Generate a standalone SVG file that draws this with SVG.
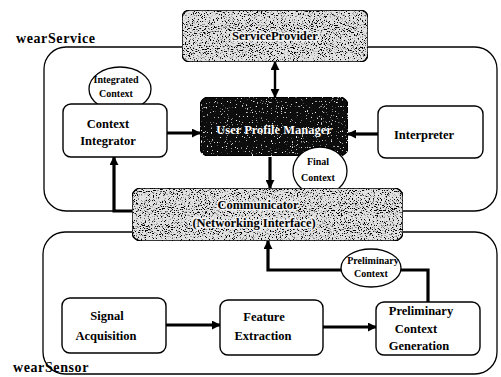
<svg xmlns="http://www.w3.org/2000/svg" width="501" height="377" viewBox="0 0 501 377">
<style>
  .cont { fill: none; stroke: #000; stroke-width: 1.3; }
  .box { fill: #fff; stroke: #000; stroke-width: 1.4; }
  .tex { fill: #e2e2e2; stroke: #000; stroke-width: 1.4; }
  .dark { fill: #0c0c0c; stroke: #000; stroke-width: 1.4; }
  .bub { fill: #fff; stroke: #000; stroke-width: 1.3; }
  .t { font-family: "Liberation Serif", "Times New Roman", serif; font-weight: bold; font-size: 12.5px; fill: #000; text-anchor: middle; }
  .tw { fill: #fff; }
  .th { stroke: #f2f2f2; stroke-width: 3; paint-order: stroke; stroke-linejoin: round; }
  .ts { font-size: 10px; }
  .lbl { font-family: "Liberation Serif", "Times New Roman", serif; font-weight: bold; font-size: 14px; letter-spacing: 0.6px; fill: #000; }
  .con { fill: none; stroke: #000; stroke-width: 3.2; }
  .con2 { fill: none; stroke: #000; stroke-width: 2.4; }
</style>
<defs>
  <marker id="ah" viewBox="0 0 10 10" refX="9" refY="5" markerWidth="9" markerHeight="9" markerUnits="userSpaceOnUse" orient="auto-start-reverse">
    <path d="M0,0 L10,5 L0,10 z" fill="#000"/>
  </marker>
  <filter id="grain" x="0" y="0" width="1" height="1">
    <feTurbulence type="fractalNoise" baseFrequency="0.75 0.95" numOctaves="2" seed="7" result="t"/>
    <feColorMatrix in="t" type="matrix" values="0 0 0 0 0  0 0 0 0 0  0 0 0 0 0  -8 0 0 0 3.75" result="d"/>
    <feComposite in="d" in2="SourceAlpha" operator="in" result="dm"/>
    <feMerge><feMergeNode in="SourceGraphic"/><feMergeNode in="dm"/></feMerge>
  </filter>
  <filter id="grainW" x="0" y="0" width="1" height="1">
    <feTurbulence type="fractalNoise" baseFrequency="0.8" numOctaves="1" seed="3" result="t"/>
    <feColorMatrix in="t" type="matrix" values="0 0 0 0 1  0 0 0 0 1  0 0 0 0 1  10 0 0 0 -6.6" result="d"/>
    <feComposite in="d" in2="SourceAlpha" operator="in" result="dm"/>
    <feMerge><feMergeNode in="SourceGraphic"/><feMergeNode in="dm"/></feMerge>
  </filter>
</defs>

<g id="wearService">
  <rect class="cont" x="44" y="47" width="453" height="164" rx="22"/>
  <text class="lbl" x="16" y="43">wearService</text>
</g>
<g id="wearSensor">
  <rect class="cont" x="43" y="232" width="454" height="142" rx="22"/>
  <text class="lbl" x="13" y="372">wearSensor</text>
</g>

<g id="connectors">
  <line class="con2" x1="275" y1="62" x2="275" y2="97" marker-start="url(#ah)" marker-end="url(#ah)"/>
  <line class="con" x1="167" y1="133" x2="200" y2="133" marker-end="url(#ah)"/>
  <line class="con" x1="378" y1="134" x2="348" y2="134" marker-end="url(#ah)"/>
  <line class="con" x1="270" y1="157" x2="270" y2="188" marker-end="url(#ah)"/>
  <path class="con" d="M132,211 H114 V157" marker-end="url(#ah)"/>
  <path class="con" d="M428,302 V270 H268 V241" marker-end="url(#ah)"/>
  <line class="con" x1="166" y1="325" x2="220" y2="325" marker-end="url(#ah)"/>
  <line class="con" x1="323" y1="327" x2="376" y2="327" marker-end="url(#ah)"/>
</g>

<g id="ServiceProvider">
  <rect class="tex" x="182" y="10" width="186" height="52" rx="8" filter="url(#grain)"/>
  <text class="t th" x="275" y="40">ServiceProvider</text>
</g>

<g id="UserProfileManager">
  <rect class="dark" x="200" y="97" width="148" height="59" rx="9" filter="url(#grainW)"/>
  <text class="t tw" x="274" y="134">User Profile Manager</text>
</g>

<g id="FinalContext">
  <ellipse class="bub" cx="320" cy="171" rx="27" ry="24"/>
  <text class="t ts" x="318" y="165">Final</text>
  <text class="t ts" x="318" y="181">Context</text>
</g>

<g id="Communicator">
  <rect class="tex" x="132" y="188" width="271" height="53" rx="9" filter="url(#grain)"/>
  <text class="t th" x="258" y="209">Communicator</text>
  <text class="t th" x="254" y="227">(Networking Interface)</text>
</g>

<g id="IntegratedContext">
  <ellipse class="bub" cx="120" cy="89" rx="31" ry="22"/>
  <text class="t ts" x="116" y="83">Integrated</text>
  <text class="t ts" x="116" y="97">Context</text>
</g>

<g id="ContextIntegrator">
  <rect class="box" x="63" y="104" width="104" height="53" rx="8"/>
  <text class="t" x="108" y="128">Context</text>
  <text class="t" x="108" y="145">Integrator</text>
</g>

<g id="Interpreter">
  <rect class="box" x="378" y="106" width="105" height="52" rx="8"/>
  <text class="t" x="424" y="139">Interpreter</text>
</g>

<g id="SignalAcquisition">
  <rect class="box" x="62" y="298" width="104" height="55" rx="8"/>
  <text class="t" x="107" y="320">Signal</text>
  <text class="t" x="106" y="340">Acquisition</text>
</g>

<g id="FeatureExtraction">
  <rect class="box" x="220" y="300" width="103" height="55" rx="8"/>
  <text class="t" x="264" y="321">Feature</text>
  <text class="t" x="263" y="340">Extraction</text>
</g>

<g id="PreliminaryContextGeneration">
  <rect class="box" x="376" y="302" width="104" height="53" rx="8"/>
  <text class="t" x="421" y="315">Preliminary</text>
  <text class="t" x="416" y="333">Context</text>
  <text class="t" x="419" y="350">Generation</text>
</g>

<g id="PreliminaryContext">
  <ellipse class="bub" cx="371" cy="268" rx="30" ry="19"/>
  <text class="t ts" x="373" y="264">Preliminary</text>
  <text class="t ts" x="371" y="277">Context</text>
</g>
</svg>
